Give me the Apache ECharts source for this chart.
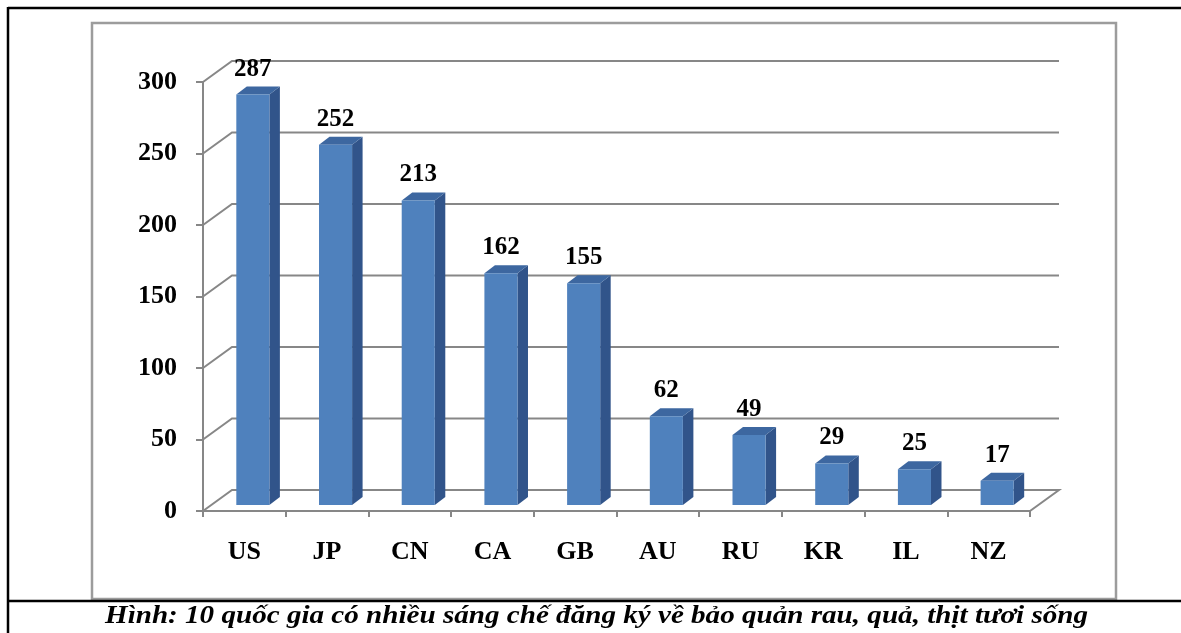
<!DOCTYPE html>
<html>
<head>
<meta charset="utf-8">
<script src="https://cdn.jsdelivr.net/npm/echarts@6/dist/echarts.min.js"></script>
<style>
  html, body { margin: 0; padding: 0; background: #fff; }
  #chart { width: 1181px; height: 633px; }
</style>
</head>
<body>
<div id="chart"></div>
<script>
// Patent counts per country (top 10)
const categories = ['US', 'JP', 'CN', 'CA', 'GB', 'AU', 'RU', 'KR', 'IL', 'NZ'];
const values = [287, 252, 213, 162, 155, 62, 49, 29, 25, 17];
const yTicks = [0, 50, 100, 150, 200, 250, 300];
const caption = 'Hình: 10 quốc gia có nhiều sáng chế đăng ký về bảo quản rau, quả, thịt tươi sống';

// Pseudo-3D geometry: depth of the back wall and of each bar
const WALL = [29, -21];       // front plane -> back wall offset
const BAR_FRONT = [8.5, -6];  // front plane -> bar front face offset
const BAR_DEPTH = [10.5, -8]; // bar front face -> bar back face
const BAR_RATIO = 0.4;        // bar width as share of a category band

const GRID_COLOR = '#878787';
const FONT = '"Liberation Serif", "Times New Roman", serif';

// Caption is set wide: stretch it to span the figure width
const CAPTION_FONT = 'italic bold 25px ' + FONT;
const CAPTION_WIDTH = 983;
const measureCtx = document.createElement('canvas').getContext('2d');
measureCtx.font = CAPTION_FONT;
const captionScale = CAPTION_WIDTH / measureCtx.measureText(caption).width;

const chart = echarts.init(document.getElementById('chart'), null, { renderer: 'canvas' });

function renderWall(params, api) {
  const cs = params.coordSys;
  const v = api.value(1);
  const y = api.coord([0, v])[1];
  const pts = [
    [cs.x, y],
    [cs.x + WALL[0], y + WALL[1]],
    [cs.x + cs.width + WALL[0], y + WALL[1]]
  ];
  if (v === 0) pts.push([cs.x + cs.width, y]);
  return {
    type: 'polyline',
    shape: { points: pts },
    style: { stroke: GRID_COLOR, lineWidth: 2, fill: null },
    silent: true
  };
}

function renderBar(params, api) {
  const i = api.value(0);
  const v = api.value(1);
  const base = api.coord([i, 0]);
  const top = api.coord([i, v]);
  const band = api.size([1, 0])[0];
  const w = band * BAR_RATIO;
  const x0 = base[0] - w / 2 + BAR_FRONT[0];
  const x1 = x0 + w;
  const yb = base[1] + BAR_FRONT[1];
  const yt = top[1] + BAR_FRONT[1];
  const dx = BAR_DEPTH[0], dy = BAR_DEPTH[1];
  return {
    type: 'group',
    children: [
      {
        type: 'polygon',
        shape: { points: [[x1, yb], [x1 + dx, yb + dy], [x1 + dx, yt + dy], [x1, yt]] },
        style: { fill: '#31548a' }
      },
      {
        type: 'polygon',
        shape: { points: [[x0, yt], [x0 + dx, yt + dy], [x1 + dx, yt + dy], [x1, yt]] },
        style: { fill: '#3d67a0' }
      },
      {
        type: 'rect',
        shape: { x: x0, y: yt, width: w, height: yb - yt },
        style: { fill: '#4f81bd' }
      },
      {
        type: 'text',
        x: (x0 + x1) / 2,
        y: yt + dy - 5,
        style: {
          text: String(v),
          align: 'center',
          verticalAlign: 'bottom',
          font: 'bold 25px ' + FONT,
          fill: '#000'
        }
      }
    ]
  };
}

chart.setOption({
  animation: false,
  backgroundColor: '#fff',
  grid: { left: 203, top: 82, width: 827, height: 429, containLabel: false },
  xAxis: {
    type: 'category',
    data: categories,
    axisLine: { show: true, lineStyle: { color: GRID_COLOR, width: 2 } },
    axisTick: { show: true, length: 6, lineStyle: { color: GRID_COLOR, width: 2 } },
    axisLabel: { color: '#000', fontFamily: FONT, fontWeight: 'bold', fontSize: 26, margin: 28 },
    splitLine: { show: false }
  },
  yAxis: {
    type: 'value',
    min: 0,
    max: 300,
    interval: 50,
    axisLine: { show: true, lineStyle: { color: GRID_COLOR, width: 2 } },
    axisTick: { show: true, length: 7, lineStyle: { color: GRID_COLOR, width: 2 } },
    axisLabel: { color: '#000', fontFamily: FONT, fontWeight: 'bold', fontSize: 26, margin: 26 },
    splitLine: { show: false }
  },
  graphic: [
    { type: 'rect', shape: { x: 92, y: 23, width: 1024, height: 576 },
      style: { fill: null, stroke: '#9c9c9c', lineWidth: 2.5 }, z: -1 },
    { type: 'line', shape: { x1: 8, y1: 8, x2: 1181, y2: 8 }, style: { stroke: '#000', lineWidth: 2.5 } },
    { type: 'line', shape: { x1: 8, y1: 7, x2: 8, y2: 633 }, style: { stroke: '#000', lineWidth: 2.5 } },
    { type: 'line', shape: { x1: 8, y1: 601, x2: 1181, y2: 601 }, style: { stroke: '#000', lineWidth: 2.5 } },
    {
      type: 'text',
      x: 596.5,
      y: 617,
      scaleX: captionScale,
      style: {
        text: caption,
        align: 'center',
        verticalAlign: 'middle',
        font: CAPTION_FONT,
        fill: '#000'
      }
    }
  ],
  series: [
    {
      type: 'custom',
      name: 'wall',
      silent: true,
      clip: false,
      z: 1,
      encode: { x: 0, y: 1 },
      data: yTicks.map(v => [0, v]),
      renderItem: renderWall
    },
    {
      type: 'custom',
      name: 'bars',
      clip: false,
      z: 2,
      encode: { x: 0, y: 1 },
      data: values.map((v, i) => [i, v]),
      renderItem: renderBar
    }
  ]
});
</script>
</body>
</html>
